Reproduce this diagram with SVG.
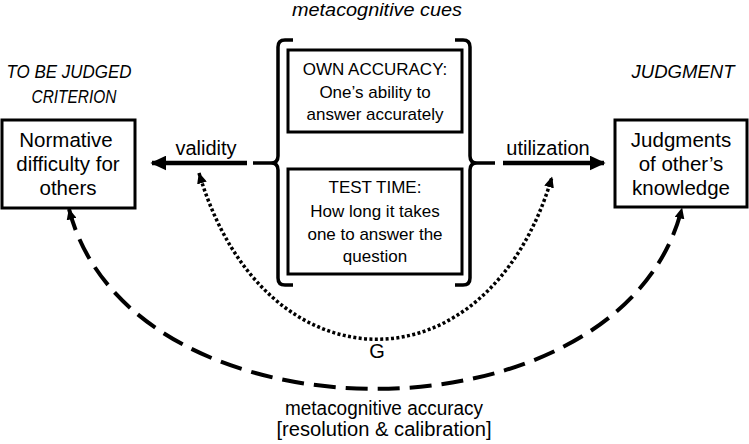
<svg xmlns="http://www.w3.org/2000/svg" width="749" height="444" viewBox="0 0 749 444">
<defs>
<style>
text{font-family:"Liberation Sans",Arial,sans-serif;fill:#000;text-anchor:middle}
.lbl{font-size:20px}
.nd{font-size:20.5px}
.it{font-size:18px;font-style:italic}
.cue{font-size:17px}
.box{fill:#fff;stroke:#000;stroke-width:3}
.brace{fill:none;stroke:#000;stroke-width:3.5}
.solid{fill:none;stroke:#000;stroke-width:4.5}
.dot{fill:none;stroke:#000;stroke-width:3.5;stroke-dasharray:3 2.4}
.dash{fill:none;stroke:#000;stroke-width:4;stroke-dasharray:22 10}
</style>
<marker id="big" viewBox="0 0 10 10" refX="9" refY="5" markerUnits="userSpaceOnUse" markerWidth="16" markerHeight="15" orient="auto" preserveAspectRatio="none"><path d="M0,0 L10,5 L0,10 z" fill="#000"/></marker>
<marker id="small" viewBox="0 0 10 10" refX="9.5" refY="5" markerUnits="userSpaceOnUse" markerWidth="11" markerHeight="10" orient="auto-start-reverse" preserveAspectRatio="none"><path d="M0,0 L10,5 L0,10 z" fill="#000"/></marker>
</defs>
<rect width="749" height="444" fill="#fff"/>
<text class="it" x="377" y="16" textLength="170" lengthAdjust="spacingAndGlyphs">metacognitive cues</text>
<text class="it" x="69" y="78" textLength="125" lengthAdjust="spacingAndGlyphs">TO BE JUDGED</text>
<text class="it" x="74" y="103" textLength="85" lengthAdjust="spacingAndGlyphs">CRITERION</text>
<text class="it" x="683" y="78" textLength="103" lengthAdjust="spacingAndGlyphs">JUDGMENT</text>
<g id="criterion">
<rect class="box" x="2" y="120" width="133" height="88"/>
<text class="nd" x="66" y="147">Normative</text>
<text class="nd" x="68" y="171">difficulty for</text>
<text class="nd" x="68" y="195">others</text>
</g>
<g id="judgment">
<rect class="box" x="615" y="120" width="132" height="87"/>
<text class="nd" x="681" y="147">Judgments</text>
<text class="nd" x="681" y="171">of other’s</text>
<text class="nd" x="681" y="195">knowledge</text>
</g>
<g id="cues">
<path class="brace" d="M293,40 L285,40 Q278,40 278,47 L278,156 Q278,163 271,163 L253,163 M271,163 Q278,163 278,170 L278,278 Q278,285 285,285 L293,285"/>
<path class="brace" d="M455,40 L463,40 Q470,40 470,47 L470,156 Q470,163 477,163 L495,163 M477,163 Q470,163 470,170 L470,278 Q470,285 463,285 L455,285"/>
</g>
<g id="own-accuracy">
<rect class="box" x="288" y="50" width="174" height="82"/>
<text class="cue" x="375" y="75">OWN ACCURACY:</text>
<text class="cue" x="375" y="98">One’s ability to</text>
<text class="cue" x="375" y="120">answer accurately</text>
</g>
<g id="test-time">
<rect class="box" x="288" y="169" width="174" height="105"/>
<text class="cue" x="375" y="193">TEST TIME:</text>
<text class="cue" x="375" y="217">How long it takes</text>
<text class="cue" x="375" y="240">one to answer the</text>
<text class="cue" x="375" y="262">question</text>
</g>
<g id="connectors">
<path class="solid" d="M247,163 L152,163" marker-end="url(#big)"/>
<path class="solid" d="M503,163 L604,163" marker-end="url(#big)"/>
<path class="dot" d="M199,173 C264,394 488,394 552,177" marker-start="url(#small)" marker-end="url(#small)"/>
<path class="dash" d="M69,209 C130,449 622,449 682,208" marker-start="url(#small)" marker-end="url(#small)"/>
</g>
<text class="lbl" x="206" y="155">validity</text>
<text class="lbl" x="548" y="155">utilization</text>
<text class="lbl" x="377" y="358">G</text>
<text class="lbl" x="384" y="415" textLength="198" lengthAdjust="spacingAndGlyphs">metacognitive accuracy</text>
<text class="lbl" x="384" y="436" textLength="215" lengthAdjust="spacingAndGlyphs">[resolution &amp; calibration]</text>
</svg>
